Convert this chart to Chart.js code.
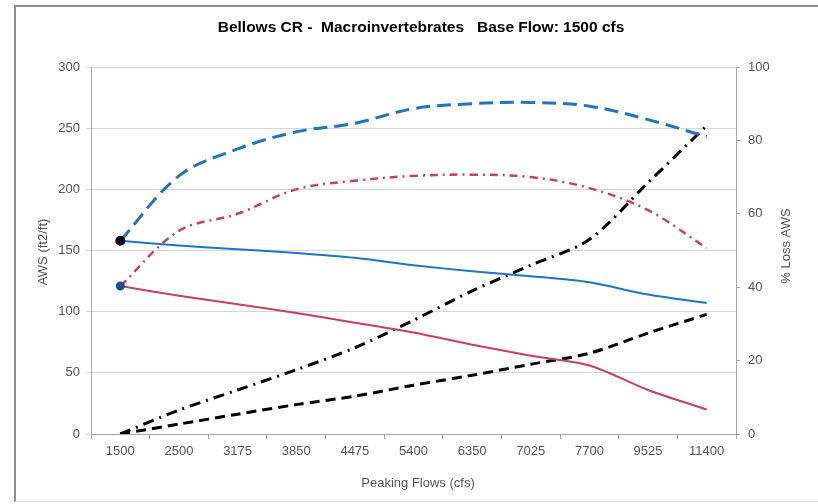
<!DOCTYPE html>
<html>
<head>
<meta charset="utf-8">
<script src="https://cdn.jsdelivr.net/npm/chart.js@4/dist/chart.umd.min.js"></script>
<style>
  html, body { margin: 0; padding: 0; background: #fff; }
  #wrap { width: 818px; height: 504px; position: relative; }
</style>
</head>
<body>
<div id="wrap"><canvas id="chart"></canvas></div>
<script>
// ===== Bellows CR - Macroinvertebrates, base flow 1500 cfs =====

const flows = ['1500', '2500', '3175', '3850', '4475', '5400', '6350', '7025', '7700', '9525', '11400'];

// AWS (ft2/ft) - left axis
const awsBlueSolid = [158, 154, 151, 148, 144, 138, 133, 129, 124, 114, 107];
const awsBlueDash  = [158, 211, 233, 247, 254, 266, 270, 271, 268, 257, 243];
const awsRedSolid  = [121, 113, 106, 99, 91, 83, 73, 64, 56, 36, 20];
const awsRedDashDot = [121, 166, 180, 200, 207, 211, 212, 210, 201, 183, 152];

// % Loss AWS - right axis
const lossDashDot = [0, 6.5, 12, 17.5, 23.5, 31, 39, 46, 53, 68.5, 84];
const lossDash    = [0, 2.7, 5.4, 8, 10.3, 13.3, 16, 19, 22, 27.5, 32.6];

const titleText = 'Bellows CR -  Macroinvertebrates   Base Flow: 1500 cfs';
const FONT = "'Liberation Sans', Arial, sans-serif";

const colors = {
  blue: '#1f74c4',
  red: '#c8405e',
  black: '#000000',
  grid: '#d6d6d6',
  axis: '#a6a6a6',
  text: '#555555'
};

function firstOnly(r) {
  return flows.map((_, i) => i === 0 ? r : 0);
}

// frame + manual titles
const decor = {
  id: 'decor',
  beforeDraw(chart) {
    const c = chart.ctx;
    c.save();
    c.fillStyle = '#fff';
    c.fillRect(0, 0, chart.width, chart.height);
    c.strokeStyle = '#8c8c8c';
    c.lineWidth = 2;
    c.beginPath();
    c.moveTo(15, 502);
    c.lineTo(15, 6);
    c.lineTo(818, 6);
    c.stroke();
    c.strokeStyle = '#e0e0e0';
    c.lineWidth = 1;
    c.beginPath();
    c.moveTo(15, 501.5);
    c.lineTo(818, 501.5);
    c.stroke();
    c.restore();
  },
  afterDraw(chart) {
    const c = chart.ctx;
    c.save();
    c.fillStyle = '#000';
    c.textAlign = 'center';
    c.textBaseline = 'middle';
    c.font = "bold 15.5px " + FONT;
    c.fillText(titleText, 421, 28);

    c.fillStyle = colors.text;
    c.font = "13px " + FONT;
    c.fillText('Peaking Flows (cfs)', 418, 483);

    c.translate(43, 252);
    c.rotate(-Math.PI / 2);
    c.fillText('AWS (ft2/ft)', 0, 0);
    c.restore();

    c.save();
    c.fillStyle = colors.text;
    c.textAlign = 'center';
    c.textBaseline = 'middle';
    c.font = "13px " + FONT;
    c.translate(786, 246);
    c.rotate(-Math.PI / 2);
    c.fillText('% Loss AWS', 0, 0);
    c.restore();
  }
};

const ctx = document.getElementById('chart');

new Chart(ctx, {
  type: 'line',
  data: {
    labels: flows,
    datasets: [
      {
        label: 'AWS dashed blue',
        data: awsBlueDash,
        yAxisID: 'y',
        borderColor: colors.blue,
        borderWidth: 3,
        borderDash: [14, 7],
        tension: 0.35,
        pointRadius: firstOnly(3.5),
        pointBackgroundColor: '#000',
        pointBorderColor: '#000',
        order: 2
      },
      {
        label: 'AWS solid blue',
        data: awsBlueSolid,
        yAxisID: 'y',
        borderColor: colors.blue,
        borderWidth: 2,
        tension: 0.3,
        pointRadius: 0,
        order: 3
      },
      {
        label: 'AWS dash-dot red',
        data: awsRedDashDot,
        yAxisID: 'y',
        borderColor: colors.red,
        borderWidth: 2.5,
        borderDash: [8, 5, 2, 5],
        tension: 0.35,
        pointRadius: 0,
        order: 4
      },
      {
        label: 'AWS solid red',
        data: awsRedSolid,
        yAxisID: 'y',
        borderColor: colors.red,
        borderWidth: 2,
        tension: 0.3,
        pointRadius: firstOnly(3.5),
        pointBackgroundColor: '#1f4e8c',
        pointBorderColor: '#1f4e8c',
        order: 1
      },
      {
        label: '% Loss dash-dot',
        data: lossDashDot,
        yAxisID: 'y1',
        borderColor: colors.black,
        borderWidth: 3,
        borderDash: [11, 6, 2, 6],
        tension: 0.3,
        pointRadius: 0,
        order: 5
      },
      {
        label: '% Loss dashed',
        data: lossDash,
        yAxisID: 'y1',
        borderColor: colors.black,
        borderWidth: 3,
        borderDash: [10, 6],
        tension: 0.3,
        pointRadius: 0,
        order: 6
      }
    ]
  },
  options: {
    responsive: true,
    maintainAspectRatio: false,
    animation: false,
    layout: { padding: { top: 67, left: 0, right: 0, bottom: 0 } },
    plugins: {
      legend: { display: false },
      title: { display: false },
      tooltip: { enabled: false }
    },
    scales: {
      x: {
        offset: true,
        grid: {
          offset: true,
          drawOnChartArea: false,
          drawTicks: true,
          tickLength: 5,
          color: colors.axis
        },
        border: { display: true, color: colors.axis, width: 1 },
        ticks: {
          color: colors.text,
          font: { family: FONT, size: 13 },
          padding: 5,
          maxRotation: 0,
          autoSkip: false
        },
        afterFit(scale) { scale.height = 70; }
      },
      y: {
        position: 'left',
        min: 0,
        max: 300,
        grid: {
          color: colors.grid,
          drawTicks: true,
          tickLength: 5,
          lineWidth: 1
        },
        border: { display: true, color: colors.axis, width: 1 },
        ticks: {
          stepSize: 50,
          color: colors.text,
          font: { family: FONT, size: 13 },
          padding: 6
        },
        afterFit(scale) { scale.width = 91; }
      },
      y1: {
        position: 'right',
        min: 0,
        max: 100,
        grid: {
          drawOnChartArea: false,
          drawTicks: true,
          tickLength: 4,
          color: colors.axis
        },
        border: { display: true, color: colors.axis, width: 1 },
        ticks: {
          stepSize: 20,
          color: colors.text,
          font: { family: FONT, size: 13 },
          padding: 8
        },
        afterFit(scale) { scale.width = 82; }
      }
    }
  },
  plugins: [decor]
});
</script>
</body>
</html>
